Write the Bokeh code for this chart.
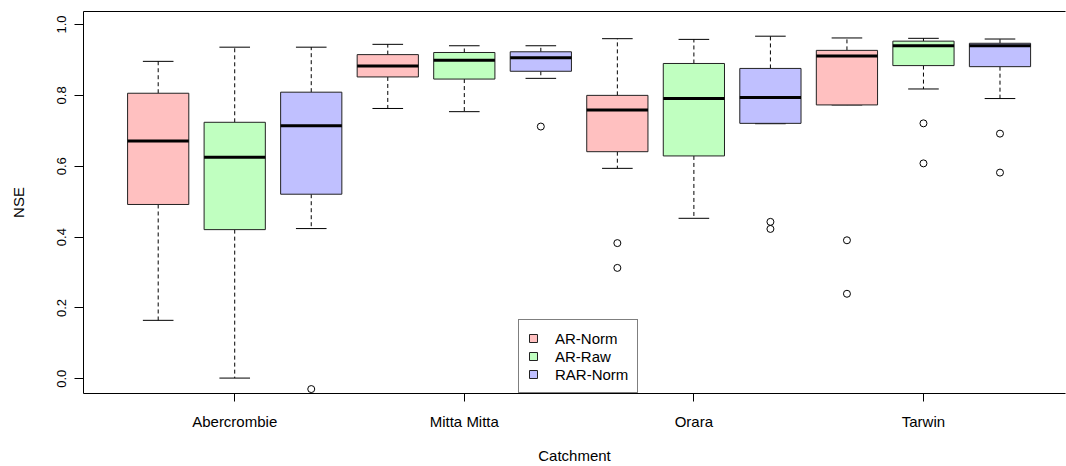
from bokeh.plotting import figure
from bokeh.models import (Range1d, FixedTicker, LinearAxis, Legend, LegendItem,
                          ColumnDataSource)
from bokeh.embed import file_html
from bokeh.resources import INLINE

# ---------------- data ----------------
catchments = ["Abercrombie", "Mitta Mitta", "Orara", "Tarwin"]
methods = ["AR-Norm", "AR-Raw", "RAR-Norm"]
colors = ["#FFC0C0", "#C0FFC0", "#C0C0FF"]

# box statistics, ordered catchment by catchment, method by method
whisker_low = [0.165, 0.002, 0.424, 0.763, 0.754, 0.848, 0.594, 0.453, 0.720, 0.773, 0.818, 0.791]
q1 = [0.492, 0.421, 0.521, 0.852, 0.846, 0.868, 0.641, 0.629, 0.721, 0.773, 0.884, 0.881]
median = [0.671, 0.625, 0.714, 0.883, 0.899, 0.906, 0.759, 0.791, 0.794, 0.911, 0.940, 0.940]
q3 = [0.806, 0.724, 0.809, 0.915, 0.921, 0.923, 0.800, 0.890, 0.876, 0.927, 0.953, 0.947]
whisker_high = [0.896, 0.936, 0.936, 0.944, 0.940, 0.940, 0.960, 0.958, 0.967, 0.962, 0.961, 0.959]

# outliers: box number (1..12) and value
outlier_box = [3, 6, 7, 7, 9, 9, 10, 10, 11, 11, 12, 12]
outlier_val = [-0.029, 0.712, 0.383, 0.313, 0.443, 0.423, 0.391, 0.240, 0.721, 0.608, 0.692, 0.582]

y_ticks = [0.0, 0.2, 0.4, 0.6, 0.8, 1.0]

# ---------------- derived ----------------
n = len(median)
pos = list(range(1, n + 1))
box_w = 0.8
cap_w = 0.4

FONT = "Liberation Sans"

p = figure(width=1066, height=466, output_backend="svg", toolbar_location=None,
           x_range=Range1d(0.024, 12.856), y_range=Range1d(-0.0415, 1.0367),
           min_border_left=83, min_border_right=1, min_border_top=11,
           min_border_bottom=73, background_fill_color="white",
           border_fill_color="white")
p.outline_line_color = None
p.outline_line_alpha = 0
p.xgrid.visible = False
p.ygrid.visible = False
p.xaxis.visible = False
p.yaxis.visible = False

# whiskers (dashed)
ws = ColumnDataSource(dict(
    x=pos + pos,
    y0=q3 + q1,
    y1=whisker_high + whisker_low,
))
p.segment(x0="x", y0="y0", x1="x", y1="y1", source=ws, line_color="black",
          line_width=1, line_dash="4 3")

# caps
cs = ColumnDataSource(dict(
    x0=[x - cap_w / 2 for x in pos] * 2,
    x1=[x + cap_w / 2 for x in pos] * 2,
    y=whisker_high + whisker_low,
))
p.segment(x0="x0", y0="y", x1="x1", y1="y", source=cs, line_color="black", line_width=1)

# boxes per method
box_renderers = []
for m, (name, col) in enumerate(zip(methods, colors)):
    idx = [i for i in range(n) if i % 3 == m]
    src = ColumnDataSource(dict(
        x=[pos[i] for i in idx],
        top=[q3[i] for i in idx],
        bottom=[q1[i] for i in idx],
    ))
    r = p.vbar(x="x", top="top", bottom="bottom", width=box_w, source=src,
               fill_color=col, line_color="#222222", line_width=1)
    box_renderers.append(r)

# medians
ms = ColumnDataSource(dict(
    x0=[x - box_w / 2 for x in pos],
    x1=[x + box_w / 2 for x in pos],
    y=median,
))
p.segment(x0="x0", y0="y", x1="x1", y1="y", source=ms, line_color="black", line_width=3)

# outliers
os_ = ColumnDataSource(dict(x=outlier_box, y=outlier_val))
p.scatter(x="x", y="y", source=os_, marker="circle", size=7, fill_color=None,
          line_color="black", line_width=1)

# axes
xaxis = LinearAxis(ticker=FixedTicker(ticks=[2, 5, 8, 11]),
                   major_label_overrides={2: catchments[0], 5: catchments[1],
                                          8: catchments[2], 11: catchments[3]},
                   axis_label="Catchment")
xaxis.major_tick_out = 8
xaxis.major_tick_in = 0
xaxis.minor_tick_out = 0
xaxis.minor_tick_in = 0
xaxis.major_label_standoff = 11
xaxis.major_label_text_font = FONT
xaxis.major_label_text_font_size = "15px"
xaxis.major_label_text_color = "black"
xaxis.axis_label_text_font = FONT
xaxis.axis_label_text_font_size = "15px"
xaxis.axis_label_text_font_style = "normal"
xaxis.axis_label_text_color = "black"
xaxis.axis_label_standoff = 14
xaxis.axis_line_color = "black"
xaxis.major_tick_line_color = "black"
p.add_layout(xaxis, "below")

yaxis = LinearAxis(ticker=FixedTicker(ticks=y_ticks), axis_label="NSE")
yaxis.major_label_overrides = {t: f"{t:.1f}" for t in y_ticks}
yaxis.major_label_orientation = "vertical"
yaxis.major_tick_out = 9
yaxis.major_tick_in = 0
yaxis.minor_tick_out = 0
yaxis.minor_tick_in = 0
yaxis.major_label_standoff = 8
yaxis.major_label_text_font = FONT
yaxis.major_label_text_font_size = "13px"
yaxis.major_label_text_color = "black"
yaxis.axis_label_text_font = FONT
yaxis.axis_label_text_font_size = "15px"
yaxis.axis_label_text_font_style = "normal"
yaxis.axis_label_text_color = "black"
yaxis.axis_label_standoff = 28
yaxis.axis_line_color = "black"
yaxis.major_tick_line_color = "black"
p.add_layout(yaxis, "left")

# top border line only
top = LinearAxis(ticker=FixedTicker(ticks=[]), major_label_text_font_size="0px",
                 major_tick_out=0, major_tick_in=0, minor_tick_out=0, minor_tick_in=0,
                 major_label_standoff=0, axis_line_color="black")
p.add_layout(top, "above")

legend = Legend(items=[LegendItem(label=nm, renderers=[r]) for nm, r in zip(methods, box_renderers)],
                location=(435, 0), orientation="vertical")
legend.border_line_color = "black"
legend.border_line_width = 1
legend.background_fill_color = "white"
legend.background_fill_alpha = 1.0
legend.label_text_font = FONT
legend.label_text_font_size = "15px"
legend.label_text_color = "black"
legend.glyph_width = 10
legend.glyph_height = 10
legend.label_height = 18
legend.label_standoff = 17
legend.padding = 9
legend.spacing = 0
legend.margin = 0
p.add_layout(legend, "center")

open("out.html", "w").write(file_html(p, INLINE))
